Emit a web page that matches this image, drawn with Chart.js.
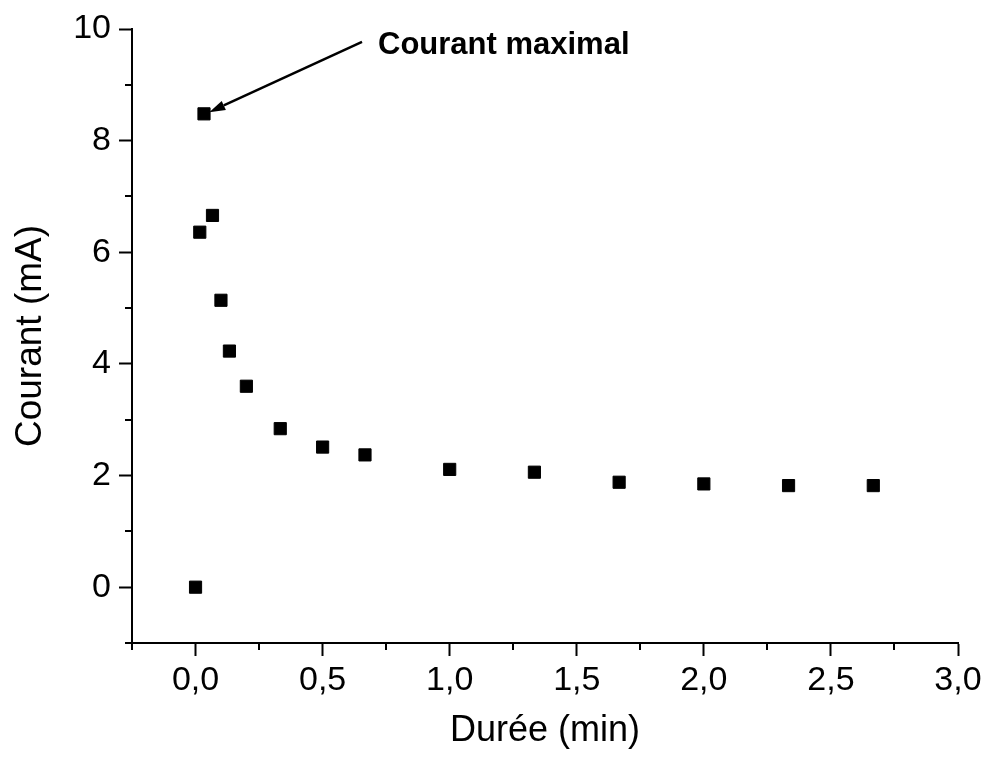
<!DOCTYPE html>
<html>
<head>
<meta charset="utf-8">
<script src="https://cdn.jsdelivr.net/npm/chart.js@4.4.0/dist/chart.umd.min.js"></script>
<style>
  html, body { margin: 0; padding: 0; background: #fff; }
  #wrap { width: 987px; height: 761px; position: relative; }
</style>
</head>
<body>
<div id="wrap"><canvas id="c" width="987" height="761"></canvas></div>
<script>
// Durée (min)
const durees = [0, 0.0167, 0.0333, 0.0667, 0.1, 0.1333, 0.2, 0.3333, 0.5, 0.6667, 1.0, 1.3333, 1.6667, 2.0, 2.3333, 2.6667];
// Courant (mA)
const courants = [0, 6.36, 8.48, 6.66, 5.14, 4.23, 3.60, 2.84, 2.51, 2.37, 2.11, 2.06, 1.88, 1.85, 1.82, 1.82];

const xTitle = 'Durée (min)';
const yTitle = 'Courant (mA)';
const annotationText = 'Courant maximal';
// annotation anchor points in data units: text, arrow start, arrow tip
const annotText = [0.718, 9.70];
const arrowFrom = [0.655, 9.77];
const arrowTo = [0.054, 8.51];

const FONT = '"Liberation Sans", Arial, sans-serif';

const points = durees.map((t, i) => ({ x: t, y: courants[i] }));

function isMajorX(v) { const r = v / 0.5; return Math.abs(r - Math.round(r)) < 1e-6; }
function isMajorY(v) { return Math.abs(v % 2) < 1e-6; }

const minorTicks = {
  id: 'minorTicks',
  afterDraw(chart) {
    const ctx = chart.ctx;
    const xs = chart.scales.x, ys = chart.scales.y;
    const area = chart.chartArea;
    ctx.save();
    ctx.strokeStyle = '#000';
    ctx.lineWidth = 2;
    ctx.beginPath();
    xs.ticks.forEach(t => {
      if (!isMajorX(t.value)) {
        const px = Math.round(xs.getPixelForValue(t.value));
        ctx.moveTo(px, area.bottom);
        ctx.lineTo(px, area.bottom + 7);
      }
    });
    ys.ticks.forEach(t => {
      if (!isMajorY(t.value)) {
        const py = Math.round(ys.getPixelForValue(t.value));
        ctx.moveTo(area.left, py);
        ctx.lineTo(area.left - 7, py);
      }
    });
    ctx.stroke();

    // annotation
    const tx = xs.getPixelForValue(annotText[0]);
    const ty = ys.getPixelForValue(annotText[1]);
    ctx.fillStyle = '#000';
    ctx.font = 'bold 31px ' + FONT;
    ctx.textAlign = 'left';
    ctx.textBaseline = 'middle';
    ctx.fillText(annotationText, tx, ty);

    const x1 = xs.getPixelForValue(arrowFrom[0]);
    const y1 = ys.getPixelForValue(arrowFrom[1]);
    const x2 = xs.getPixelForValue(arrowTo[0]);
    const y2 = ys.getPixelForValue(arrowTo[1]);
    const ang = Math.atan2(y2 - y1, x2 - x1);
    const headLen = 16, headW = 5;
    const bx = x2 - headLen * Math.cos(ang), by = y2 - headLen * Math.sin(ang);
    ctx.lineWidth = 2.5;
    ctx.beginPath();
    ctx.moveTo(x1, y1);
    ctx.lineTo(bx, by);
    ctx.stroke();
    ctx.beginPath();
    ctx.moveTo(x2, y2);
    ctx.lineTo(bx + headW * Math.sin(ang), by - headW * Math.cos(ang));
    ctx.lineTo(bx - headW * Math.sin(ang), by + headW * Math.cos(ang));
    ctx.closePath();
    ctx.fill();
    ctx.restore();
  }
};

new Chart(document.getElementById('c'), {
  type: 'scatter',
  data: {
    datasets: [{
      data: points,
      pointStyle: 'rect',
      pointRadius: 8.6,
      pointHoverRadius: 8.6,
      backgroundColor: '#000',
      borderColor: '#000',
      borderWidth: 1,
      showLine: false
    }]
  },
  options: {
    responsive: false,
    animation: false,
    events: [],
    layout: { padding: { left: 0, right: 29, top: 29, bottom: 0 } },
    plugins: { legend: { display: false }, tooltip: { enabled: false } },
    scales: {
      x: {
        type: 'linear',
        min: -0.25,
        max: 3.0,
        afterFit(scale) { scale.height = 761 - 643; },
        border: { display: true, color: '#000', width: 2 },
        grid: {
          display: true,
          drawOnChartArea: false,
          drawTicks: true,
          tickLength: 13,
          tickWidth: 2,
          tickColor: ctx => isMajorX(ctx.tick.value) ? '#000' : 'rgba(0,0,0,0)'
        },
        ticks: {
          stepSize: 0.25,
          autoSkip: false,
          maxRotation: 0,
          padding: 4,
          color: '#000',
          font: { family: FONT, size: 34 },
          callback: v => isMajorX(v) ? v.toFixed(1).replace('.', ',') : ''
        },
        title: {
          display: true,
          text: xTitle,
          color: '#000',
          font: { family: FONT, size: 36 },
          padding: { top: 0, bottom: 8 }
        }
      },
      y: {
        type: 'linear',
        min: -1,
        max: 10,
        afterFit(scale) { scale.width = 132; },
        border: { display: true, color: '#000', width: 2 },
        grid: {
          display: true,
          drawOnChartArea: false,
          drawTicks: true,
          tickLength: 13,
          tickWidth: 2,
          tickColor: ctx => isMajorY(ctx.tick.value) ? '#000' : 'rgba(0,0,0,0)'
        },
        ticks: {
          stepSize: 1,
          autoSkip: false,
          padding: 8,
          color: '#000',
          font: { family: FONT, size: 34 },
          callback: v => isMajorY(v) ? String(v) : ''
        },
        title: {
          display: true,
          text: yTitle,
          color: '#000',
          font: { family: FONT, size: 37 },
          padding: { top: 9, bottom: 0 }
        }
      }
    }
  },
  plugins: [minorTicks]
});
</script>
</body>
</html>
